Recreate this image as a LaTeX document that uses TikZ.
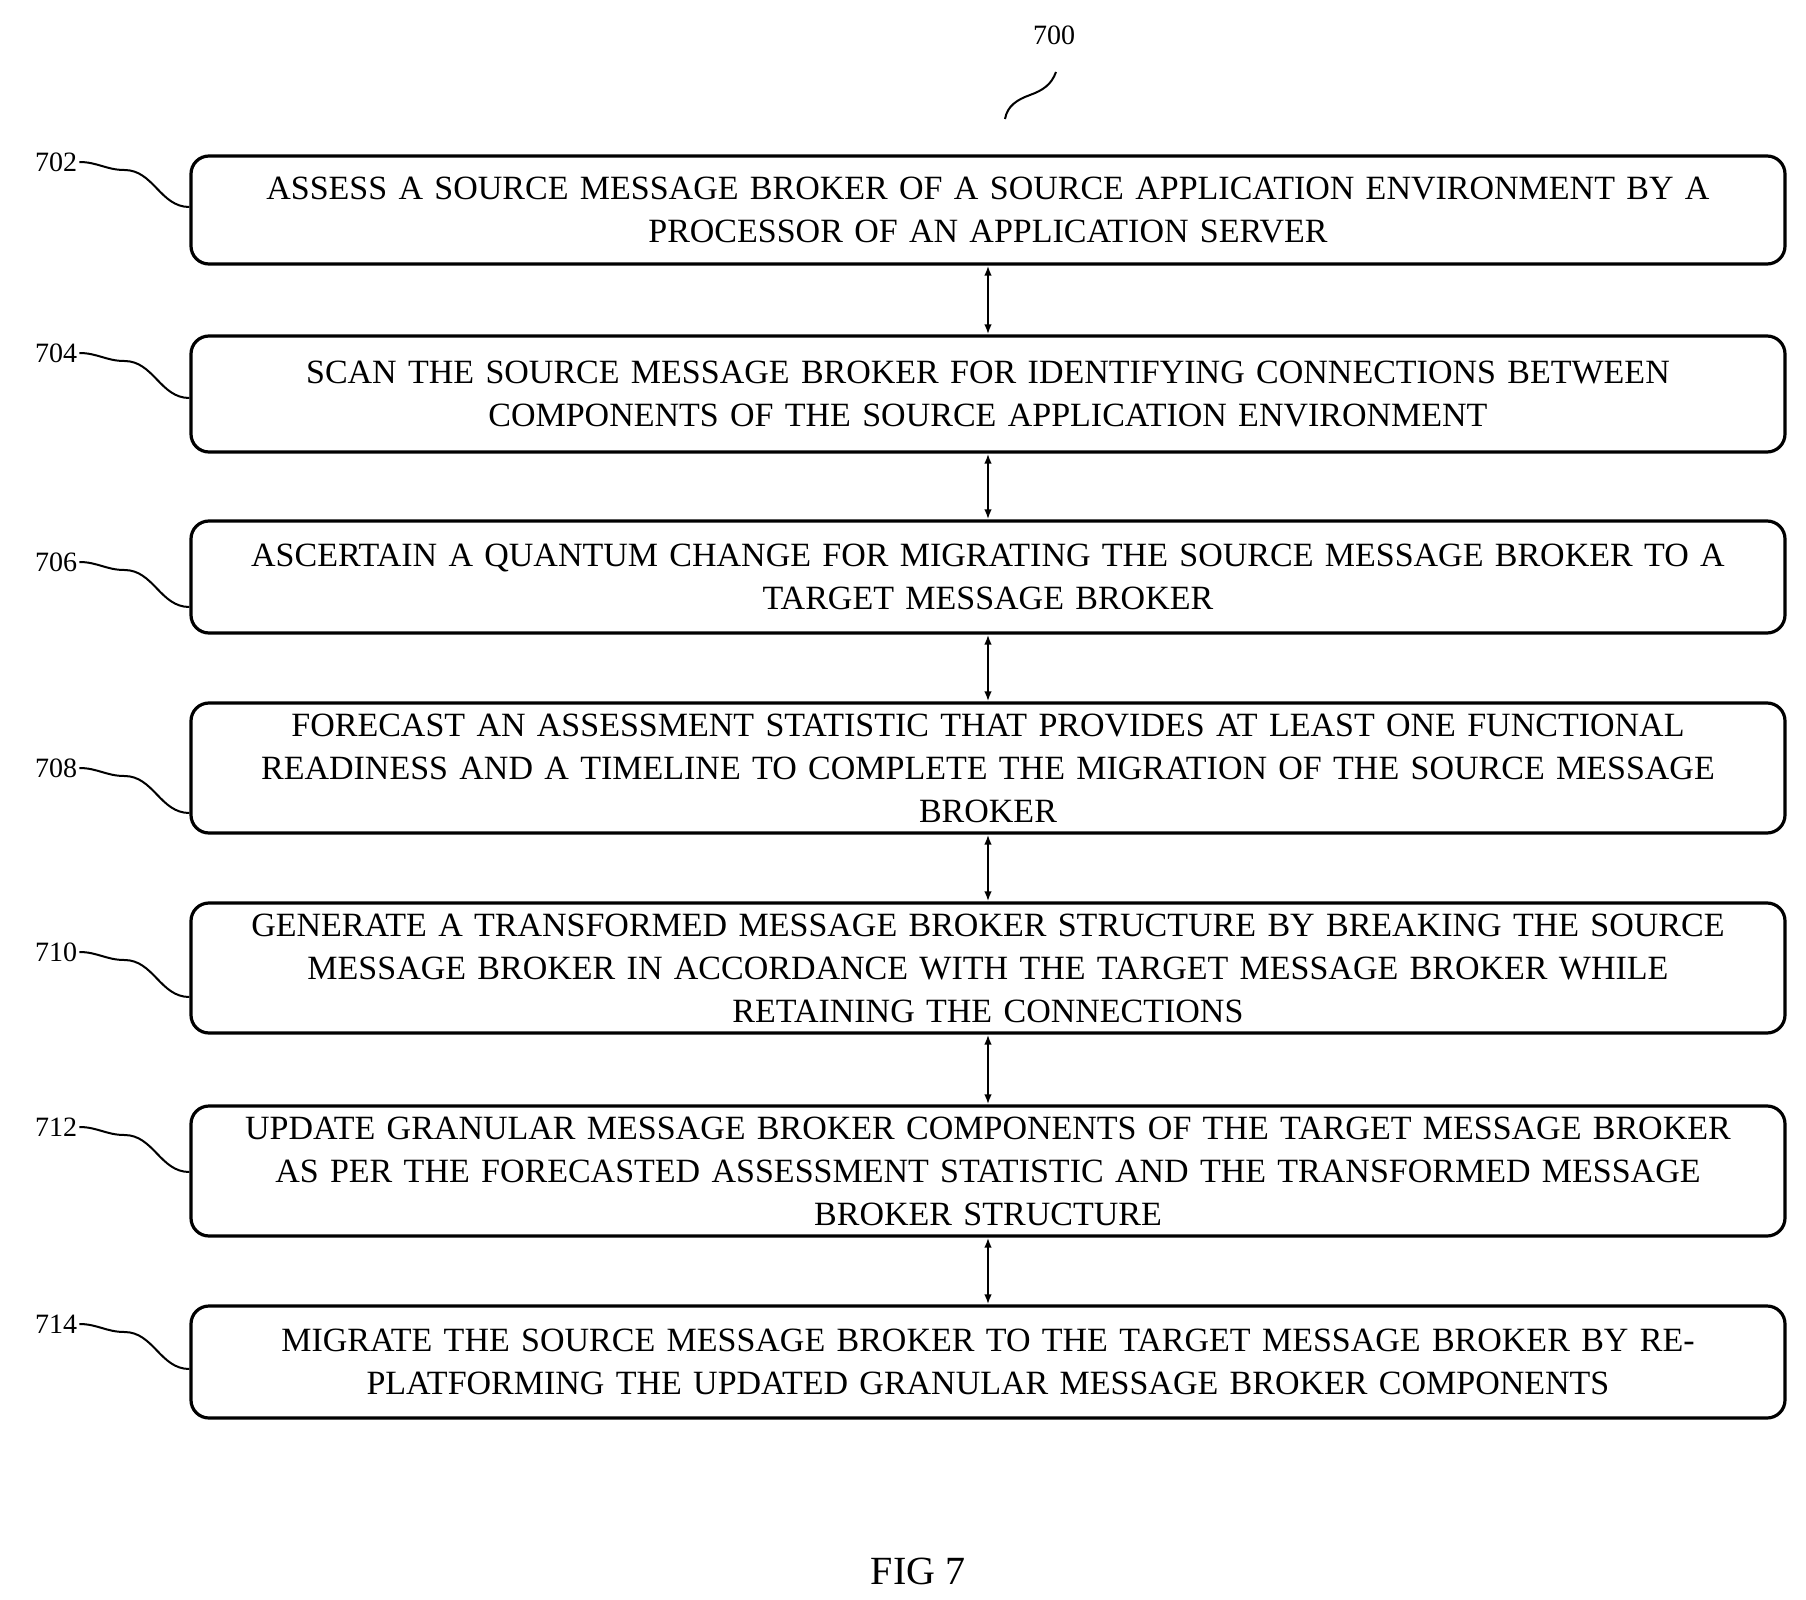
\documentclass[tikz,border=0pt]{standalone}
\usepackage{fontspec}
\setmainfont{Liberation Serif}
\usetikzlibrary{arrows.meta, calc, decorations.pathmorphing}
\begin{document}
\begin{tikzpicture}[x=0.5pt,y=-0.5pt,
  stepbox/.style={draw,line width=1.6pt,rounded corners=9pt,minimum width=797pt,
    text width=790pt,align=center,font=\fontsize{17}{21.5}\selectfont,inner sep=0pt},
  lbl/.style={font=\fontsize{14}{16}\selectfont,inner sep=1pt},
  lead/.style={line width=1pt},
  link/.style={{Latex[length=5pt]}-{Latex[length=5pt]},line width=1pt}]

\useasboundingbox (0,0) rectangle (1806,1600);

% steps
\node[stepbox,minimum height=54pt] (s702) at (988,210) {ASSESS A SOURCE MESSAGE BROKER OF A SOURCE APPLICATION ENVIRONMENT BY A\\PROCESSOR OF AN APPLICATION SERVER};
\node[stepbox,minimum height=58pt] (s704) at (988,394) {SCAN THE SOURCE MESSAGE BROKER FOR IDENTIFYING CONNECTIONS BETWEEN\\COMPONENTS OF THE SOURCE APPLICATION ENVIRONMENT};
\node[stepbox,minimum height=56pt] (s706) at (988,577) {ASCERTAIN A QUANTUM CHANGE FOR MIGRATING THE SOURCE MESSAGE BROKER TO A\\TARGET MESSAGE BROKER};
\node[stepbox,minimum height=65pt] (s708) at (988,768) {FORECAST AN ASSESSMENT STATISTIC THAT PROVIDES AT LEAST ONE FUNCTIONAL\\READINESS AND A TIMELINE TO COMPLETE THE MIGRATION OF THE SOURCE MESSAGE\\BROKER};
\node[stepbox,minimum height=65pt] (s710) at (988,968) {GENERATE A TRANSFORMED MESSAGE BROKER STRUCTURE BY BREAKING THE SOURCE\\MESSAGE BROKER IN ACCORDANCE WITH THE TARGET MESSAGE BROKER WHILE\\RETAINING THE CONNECTIONS};
\node[stepbox,minimum height=65pt] (s712) at (988,1171) {UPDATE GRANULAR MESSAGE BROKER COMPONENTS OF THE TARGET MESSAGE BROKER\\AS PER THE FORECASTED ASSESSMENT STATISTIC AND THE TRANSFORMED MESSAGE\\BROKER STRUCTURE};
\node[stepbox,minimum height=56pt] (s714) at (988,1362) {MIGRATE THE SOURCE MESSAGE BROKER TO THE TARGET MESSAGE BROKER BY RE-\\PLATFORMING THE UPDATED GRANULAR MESSAGE BROKER COMPONENTS};

% links
\foreach \a/\b in {702/704,704/706,706/708,708/710,710/712,712/714}
  \draw[link] (s\a.south) -- (s\b.north);

% reference labels
\foreach \n/\y in {702/162,704/353,706/562,708/768,710/952,712/1127,714/1324}{
  \node[lbl] (l\n) at (56,\y) {\n};
  \draw[lead] (l\n.east) to[out=0,in=180] ($(l\n.east)+(45,8)$)
    to[out=0,in=180] (s\n.west|-0,{\y+45});
}

\node[lbl] (l700) at (1054,35) {700};
\coordinate (c700) at (1005,119);
\draw[lead] (c700) to[out=80,in=200] (1030,95) to[out=20,in=250] (1056,72);

\node[font=\fontsize{20}{24}\selectfont] (fig) at (918,1571) {FIG 7};
\end{tikzpicture}
\end{document}
